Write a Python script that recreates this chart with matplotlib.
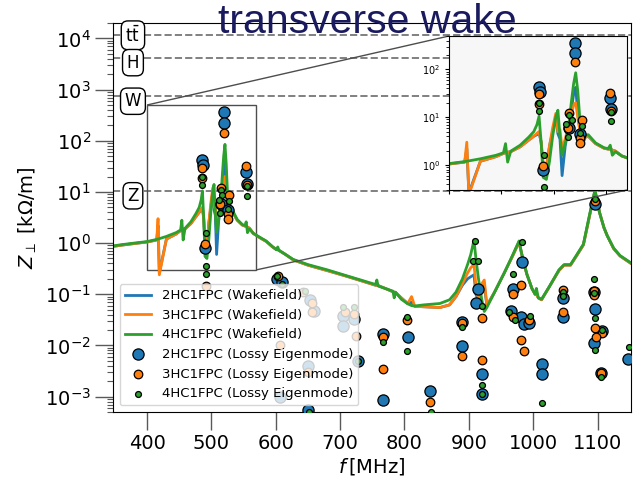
import numpy as np
import matplotlib
matplotlib.use('Agg')
import matplotlib.pyplot as plt
from matplotlib.ticker import LogLocator, NullFormatter
from mpl_toolkits.axes_grid1.inset_locator import mark_inset

# wakefield impedance curves
f_wake = [347, 360, 380, 400, 415, 417, 419, 430, 445, 452, 454, 456, 459, 468, 476,
          481, 484, 486, 488, 490, 493, 496, 499, 502, 504, 506, 508, 511, 514, 517,
          519, 521, 523, 525, 527, 530, 533, 540, 548, 552, 554, 556, 559, 565, 575,
          585, 595, 601, 603, 605, 615, 627, 650, 680, 710, 735, 755, 757, 759, 770,
          782, 784, 786, 795, 805, 811, 816, 830, 855, 870, 880, 890, 898, 903, 908,
          911, 915, 920, 924, 928, 940, 955, 968, 978, 983, 990, 998, 1003, 1005, 1008,
          1013, 1025, 1040, 1048, 1058, 1068, 1078, 1088, 1096, 1103, 1110, 1115, 1125, 1135, 1152]
z_wake_4hc = [0.88, 0.93, 1.0, 1.07, 1.18, 1.2, 1.22, 1.35, 1.6, 1.8, 2.8, 1.15, 1.95, 2.6, 3.8,
              5.0, 7.0, 10.5, 3.0, 0.55, 0.5, 1.2, 4.0, 10.0, 14.0, 4.0, 1.6, 2.8, 6.0, 22,
              50, 85, 35, 9.0, 3.0, 4.2, 4.3, 2.9, 2.3, 2.2, 2.6, 1.6, 1.9, 1.55, 1.3,
              1.1, 0.85, 0.74, 0.84, 0.72, 0.6, 0.48, 0.38, 0.3, 0.23, 0.185, 0.155, 0.19, 0.145, 0.13,
              0.115, 0.085, 0.11, 0.08, 0.065, 0.06, 0.059, 0.062, 0.066, 0.078, 0.11, 0.2, 0.38, 0.6, 1.15,
              0.5, 0.2, 0.08, 0.046, 0.055, 0.11, 0.26, 0.58, 1.1, 0.55, 0.25, 0.13, 0.1, 0.13, 0.085,
              0.08, 0.14, 0.3, 0.38, 0.38, 0.6, 0.95, 3.8, 11, 4.0, 2.0, 1.4, 0.8, 0.57, 0.41]
z_wake_3hc = [0.86, 0.91, 0.98, 1.05, 1.15, 3.0, 0.24, 1.2, 1.5, 1.75, 1.8, 1.85, 1.9, 2.4, 3.3,
              4.0, 4.6, 5.0, 3.0, 1.0, 0.9, 2.5, 6.0, 12, 5.0, 5.5, 2.2, 3.5, 6.5, 12,
              18, 20, 10, 5.0, 2.5, 3.8, 4.0, 2.8, 2.25, 2.15, 2.15, 2.05, 1.95, 1.55, 1.28,
              1.08, 0.84, 0.75, 0.74, 0.72, 0.6, 0.47, 0.37, 0.29, 0.225, 0.18, 0.15, 0.15, 0.148, 0.13,
              0.112, 0.11, 0.108, 0.085, 0.066, 0.09, 0.058, 0.057, 0.055, 0.062, 0.09, 0.16, 0.26, 0.33, 0.38,
              0.15, 0.08, 0.16, 0.19, 0.06, 0.11, 0.26, 0.56, 1.05, 0.55, 0.25, 0.13, 0.1, 0.1, 0.085,
              0.078, 0.14, 0.29, 0.37, 0.37, 0.58, 0.92, 3.6, 10.5, 4.0, 2.0, 1.4, 0.78, 0.56, 0.4]
z_wake_2hc = [0.86, 0.91, 0.98, 1.05, 1.15, 2.2, 0.26, 1.2, 1.5, 1.75, 1.8, 1.85, 1.9, 2.4, 3.3,
              4.0, 4.3, 4.8, 3.0, 0.9, 0.9, 2.5, 5.0, 10, 4.5, 3.5, 0.6, 2.5, 6.0, 15,
              30, 42, 12, 5.5, 2.5, 3.8, 4.0, 2.8, 2.25, 2.15, 2.15, 2.05, 1.95, 1.55, 1.28,
              1.08, 0.84, 0.75, 0.74, 0.72, 0.6, 0.47, 0.37, 0.29, 0.225, 0.18, 0.15, 0.15, 0.148, 0.13,
              0.112, 0.11, 0.108, 0.085, 0.066, 0.07, 0.058, 0.057, 0.055, 0.062, 0.09, 0.15, 0.2, 0.22, 0.24,
              0.1, 0.075, 0.12, 0.15, 0.06, 0.11, 0.26, 0.56, 1.05, 0.55, 0.25, 0.13, 0.1, 0.1, 0.085,
              0.078, 0.14, 0.29, 0.37, 0.37, 0.58, 0.92, 3.6, 10.5, 4.0, 2.0, 1.4, 0.78, 0.56, 0.4]

# lossy eigenmode results
f_eig_2hc = [486, 487, 490, 520, 520, 515, 525, 554, 555,
             602, 609, 606, 653, 660, 650, 650, 704, 704, 722, 727,
             766, 766, 805, 840, 890, 890, 914, 911, 920, 920,
             982, 968, 965, 981, 986, 993, 1013, 1013,
             1047, 1047, 1095, 1096, 1107, 1094, 1106, 1148, 1096]
z_eig_2hc = [42, 33, 0.8, 365, 222, 5.9, 4.5, 25, 14.5,
             0.2, 0.17, 0.001, 0.076, 0.048, 0.004, 0.00055, 0.038, 0.024, 0.033, 0.005,
             0.017, 0.00087, 0.0145, 0.0013, 0.029, 0.0096, 0.124, 0.068, 0.0028, 0.0011,
             0.43, 0.128, 0.048, 0.036, 0.026, 0.028, 0.0044, 0.0028,
             0.085, 0.036, 0.113, 0.052, 0.0195, 0.011, 0.0029, 0.0055, 5.9]
f_eig_3hc = [486, 486, 490, 491, 520, 554, 555, 515, 514, 527, 525, 525,
             603, 606, 642, 657, 656, 650, 707, 722, 725,
             766, 766, 804, 840, 890, 890, 920, 921,
             981, 969, 968, 994, 981, 986,
             1047, 1047, 1095, 1095, 1096, 1107, 1097, 1106, 1096]
z_eig_3hc = [30, 18.5, 0.97, 0.145, 141, 32, 13.5, 12, 5.9, 8.7, 3.7, 2.9,
             0.23, 0.01, 0.11, 0.068, 0.045, 0.003, 0.045, 0.041, 0.015,
             0.0145, 0.0035, 0.031, 0.00077, 0.027, 0.0062, 0.034, 0.0053,
             0.149, 0.102, 0.036, 0.031, 0.013, 0.0079,
             0.123, 0.046, 0.118, 0.098, 0.022, 0.0177, 0.0149, 0.0029, 6.6]
f_eig_4hc = [486, 486, 491, 491, 491, 515, 517, 512, 514, 527, 525, 555, 555,
             602, 609, 645, 652, 704, 722, 727,
             766, 804, 804, 841, 890, 910, 906, 914, 921, 921, 921,
             983, 969, 962, 972, 995, 1013,
             1047, 1047, 1095, 1095, 1096, 1107, 1096, 1106, 1149, 1096]
z_eig_4hc = [19.5, 13.5, 1.6, 0.35, 0.25, 11, 8.7, 7.1, 3.8, 6.5, 4.6, 12.8, 8.4,
             0.23, 0.16, 0.118, 0.0005, 0.057, 0.057, 0.005,
             0.0115, 0.036, 0.0079, 0.0005, 0.023, 1.08, 0.44, 0.44, 0.059, 0.0017, 0.0011,
             1.05, 0.25, 0.046, 0.032, 0.037, 0.00074,
             0.113, 0.091, 0.195, 0.107, 0.035, 0.0204, 0.0083, 0.0024, 0.0092, 7.2]

# machine thresholds
thr_names = [r'$\mathrm{t\bar{t}}$', 'H', 'W', 'Z']
thr_values = [1.15e4, 4.2e3, 740, 10.5]


def draw_data(ax):
    ax.plot(f_wake, z_wake_2hc, color='C0', lw=2, label='2HC1FPC (Wakefield)')
    ax.plot(f_wake, z_wake_3hc, color='C1', lw=2, label='3HC1FPC (Wakefield)')
    ax.plot(f_wake, z_wake_4hc, color='C2', lw=2, label='4HC1FPC (Wakefield)')
    ax.scatter(f_eig_2hc, z_eig_2hc, s=65, c='C0', edgecolors='k', linewidths=0.9,
               zorder=3, label='2HC1FPC (Lossy Eigenmode)')
    ax.scatter(f_eig_3hc, z_eig_3hc, s=38, c='C1', edgecolors='k', linewidths=0.9,
               zorder=3, label='3HC1FPC (Lossy Eigenmode)')
    ax.scatter(f_eig_4hc, z_eig_4hc, s=18, c='C2', edgecolors='k', linewidths=0.9,
               zorder=3, label='4HC1FPC (Lossy Eigenmode)')


fig = plt.figure(figsize=(6.34, 4.82), dpi=100)
ax = fig.add_axes([113/634, 1-412/482, 518/634, 389/482])
draw_data(ax)

for name, val in zip(thr_names, thr_values):
    ax.axhline(val, color='grey', ls='--', lw=1.4, zorder=1)
    yl = val if name != 'H' and name != 'W' and name != 'Z' else val*0.8
    ax.text(378, yl, name, ha='center', va='center', fontsize=12, zorder=4,
            bbox=dict(boxstyle='round,pad=0.25,rounding_size=0.4', fc='white', ec='black', lw=1))

ax.set_yscale('log')
ax.set_xlim(347, 1152)
ax.set_ylim(5e-4, 2e4)
ax.set_xticks([400, 500, 600, 700, 800, 900, 1000, 1100])
ax.set_yticks([1e-3, 1e-2, 1e-1, 1, 10, 100, 1e3, 1e4])
ax.yaxis.set_minor_locator(LogLocator(base=10, subs=np.arange(2, 10), numticks=40))
ax.yaxis.set_minor_formatter(NullFormatter())
ax.tick_params(which='major', length=13, width=1, color='0.35', labelsize=14, pad=3)
ax.tick_params(which='minor', length=4, width=0.8, color='0.35')
ax.set_xlabel(r'$f\,$[MHz]', fontsize=14, labelpad=2)
ax.set_ylabel(r'$Z_\perp$ [kΩ/m]', fontsize=14)
ax.legend(loc='lower left', fontsize=9.5)

# zoomed inset
axins = fig.add_axes([449/634, 1-190/482, 178/634, 154/482])
axins.set_facecolor('#f7f7f7')
draw_data(axins)
axins.set_yscale('log')
axins.set_xlim(400, 570)
axins.set_ylim(0.3, 500)
axins.set_yticks([1, 10, 100])
axins.yaxis.set_minor_locator(LogLocator(base=10, subs=np.arange(2, 10), numticks=20))
axins.yaxis.set_minor_formatter(NullFormatter())
axins.tick_params(labelsize=7, labelbottom=False, length=3)
axins.tick_params(which='minor', length=2)
mark_inset(ax, axins, loc1=2, loc2=4, fc='none', ec='0.3', lw=1)

# title: first line runs off the top of the figure, as in the original slide
fig.text(367/634, 1+8/482, 'Dipole impedance', ha='center', va='baseline',
         fontsize=29.5, family='Liberation Sans', color='#1a1a5e')
fig.text(367/634, 1-33/482, 'transverse wake', ha='center', va='baseline',
         fontsize=29.5, family='Liberation Sans', color='#1a1a5e')

plt.savefig('out.png', dpi=100)
